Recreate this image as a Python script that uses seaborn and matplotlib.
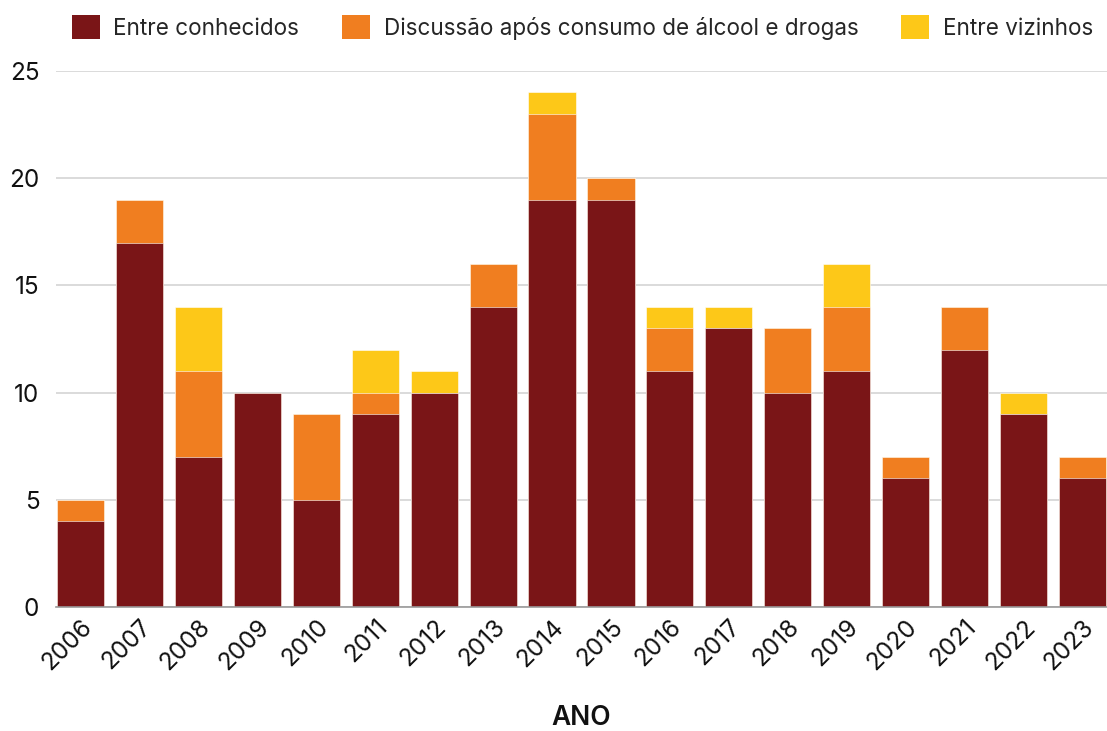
import matplotlib
matplotlib.use("Agg")
import matplotlib.pyplot as plt
from matplotlib.patches import Patch
import seaborn as sns
import pandas as pd
import numpy as np

anos = ["2006", "2007", "2008", "2009", "2010", "2011", "2012", "2013", "2014",
        "2015", "2016", "2017", "2018", "2019", "2020", "2021", "2022", "2023"]
conhecidos = [4, 17, 7, 10, 5, 9, 10, 14, 19, 19, 11, 13, 10, 11, 6, 12, 9, 6]
discussao = [1, 2, 4, 0, 4, 1, 0, 2, 4, 1, 2, 0, 3, 3, 1, 2, 0, 1]
vizinhos = [0, 0, 3, 0, 0, 2, 1, 0, 1, 0, 1, 1, 0, 2, 0, 0, 1, 0]
series = ["Entre conhecidos", "Discussão após consumo de álcool e drogas", "Entre vizinhos"]
cores = ["#7A1517", "#F07E20", "#FDC818"]

df = pd.DataFrame({"ano": anos, "c": conhecidos, "d": discussao, "v": vizinhos})
df["lvl1"] = df["c"]
df["lvl2"] = df["c"] + df["d"]
df["lvl3"] = df["c"] + df["d"] + df["v"]

sns.set_theme(style="white")
plt.rcParams["font.family"] = ["Inter", "DejaVu Sans"]

fig = plt.figure(figsize=(11.07, 7.31), dpi=100)
ax = fig.add_axes([0.0506, 0.1696, 0.9494, 0.7333])

for col, cor in [("lvl3", cores[2]), ("lvl2", cores[1]), ("lvl1", cores[0])]:
    sns.barplot(data=df, x="ano", y=col, color=cor, saturation=1, width=0.8,
                edgecolor="#ffffff", linewidth=0.4, ax=ax, order=anos)

ax.set_xlim(-0.42, 17.42)
ax.set_ylim(0, 25)
ax.set_yticks([0, 5, 10, 15, 20, 25])
ax.yaxis.grid(True, color="#d4d4d4", linewidth=1.2)
ax.set_axisbelow(True)
for s in ["top", "right", "left"]:
    ax.spines[s].set_visible(False)
ax.spines["bottom"].set_color("#999999")
ax.spines["bottom"].set_linewidth(1.2)
ax.tick_params(axis="y", length=0, labelsize=17.5, colors="#111111", pad=12)
ax.tick_params(axis="x", length=0, labelsize=17.5, colors="#111111", pad=6)
for lbl in ax.get_xticklabels():
    lbl.set_rotation(45)
    lbl.set_ha("right")
    lbl.set_rotation_mode("anchor")
ax.set_ylabel("")
ax.set_xlabel("ANO", fontsize=19, fontweight="semibold", color="#111111", labelpad=22)

handles = [Patch(facecolor=c, edgecolor="none") for c in cores]
fig.legend(handles, series, loc="upper center", bbox_to_anchor=(0.526, 1.007), ncol=3,
           frameon=False, fontsize=16.2, handlelength=1.25, handleheight=1.25,
           columnspacing=1.9, handletextpad=0.6)

fig.savefig("out.png", dpi=100)
